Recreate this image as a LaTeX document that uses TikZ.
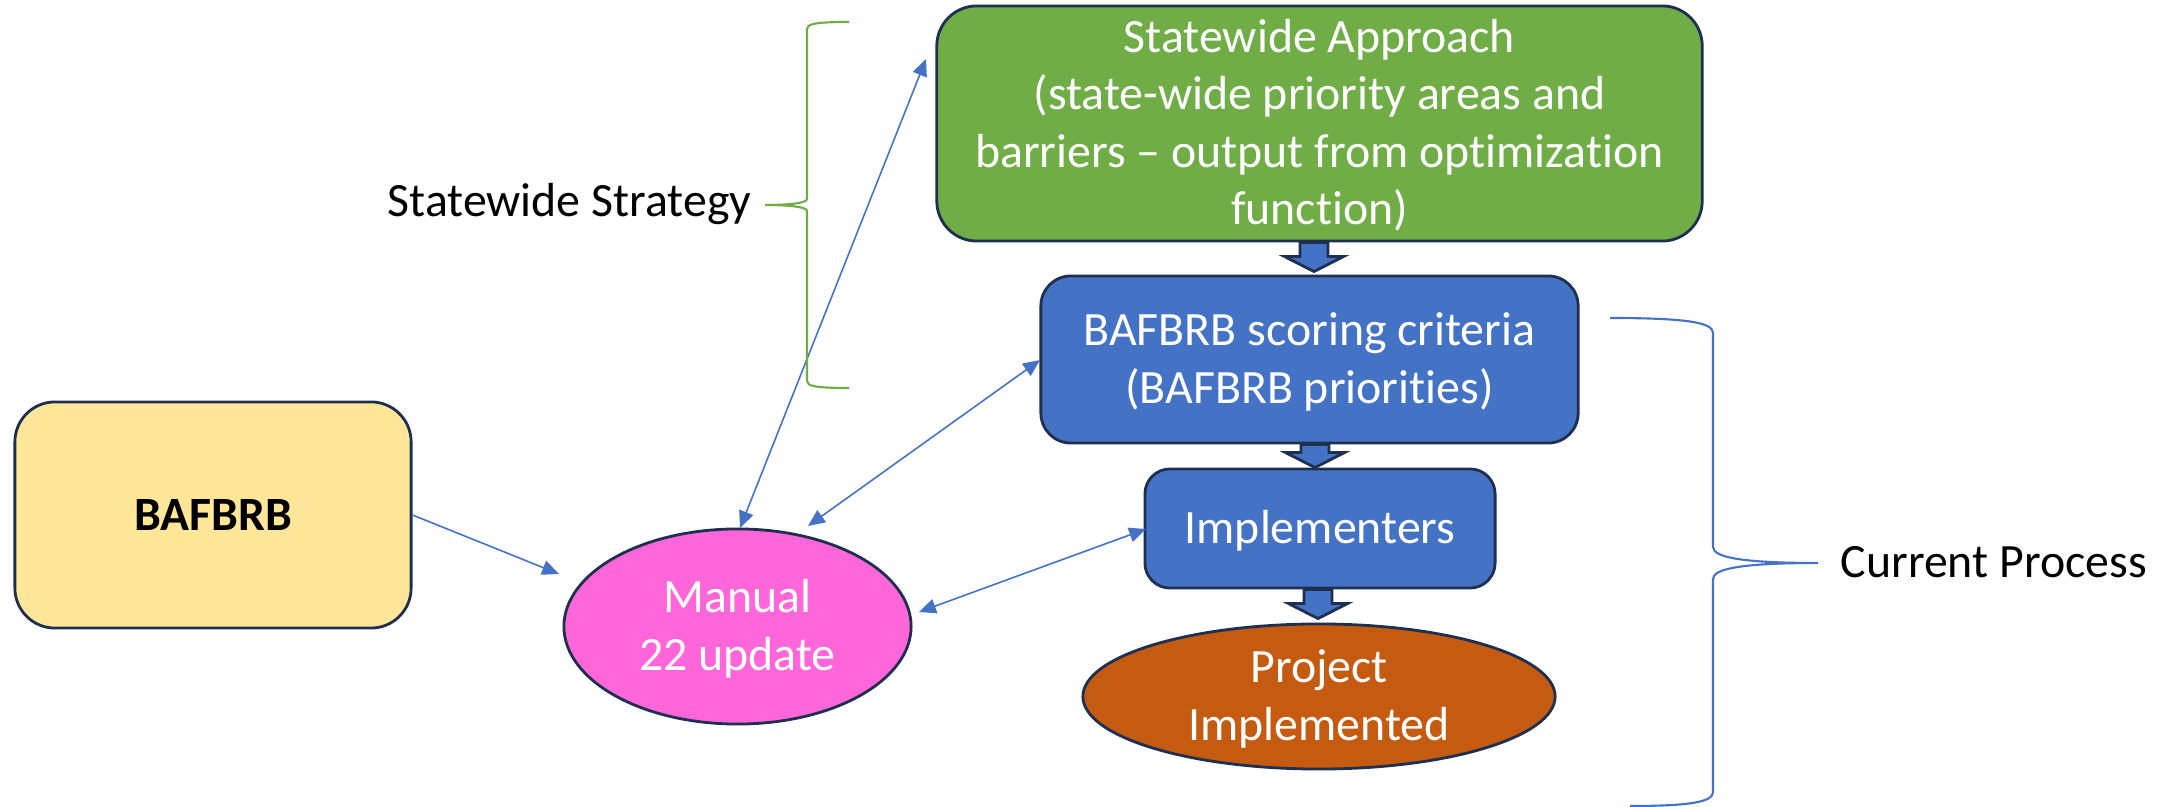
\documentclass[tikz,border=0pt]{standalone}
\usepackage{fontspec}
\setmainfont{Carlito}[Ligatures=NoCommon]
\usetikzlibrary{arrows.meta,shapes.geometric,calc}
\definecolor{edge}{HTML}{1F2F4F}
\definecolor{accblue}{HTML}{4472C4}
\definecolor{accgreen}{HTML}{70AD47}
\definecolor{accyellow}{HTML}{FFE699}
\definecolor{accpink}{HTML}{FF66DA}
\definecolor{accorange}{HTML}{C55A11}
\newcommand\bodyfont{\fontsize{13.6}{16.3}\selectfont}
% #1 = number of lines minus one; the block of baselines is centred 0.15cm below the node centre
\newcommand\ctext[2]{\raisebox{0pt}[0.3cm][#1\baselineskip]{\begin{tabular}[t]{@{}c@{}}#2\end{tabular}}}
\newcommand\blockdown[2]{\draw[blk] let \p1=#1, \p2=#2 in
  (\x1-0.14cm,\y1) -- (\x1+0.14cm,\y1) -- (\x1+0.14cm,\y2+0.15cm) -- (\x1+0.295cm,\y2+0.15cm)
  -- (\x1,\y2) -- (\x1-0.295cm,\y2+0.15cm) -- (\x1-0.14cm,\y2+0.15cm) -- cycle;}
\tikzset{
  box/.style={draw=edge, line width=0.8pt, inner sep=0pt, text=white, font=\bodyfont},
  oval/.style={ellipse, draw=edge, line width=0.8pt, inner sep=0pt, text=white, font=\bodyfont},
  blk/.style={draw=edge, line width=0.8pt, fill=accblue, line join=miter},
  conn/.style={draw=accblue, line width=0.45pt},
  bracebl/.style={draw=accblue, line width=0.6pt},
  bracegr/.style={draw=accgreen, line width=0.6pt},
  lbl/.style={font=\bodyfont, anchor=base west, inner sep=0pt, text=black},
}
\begin{document}
\begin{tikzpicture}[x=0.01cm,y=-0.01cm, >={Triangle[length=4.8pt,width=4.2pt]}]
\useasboundingbox (0,0) rectangle (2164,807);

% nodes
\node[box, fill=accgreen, minimum width=7.65cm, minimum height=2.35cm, rounded corners=0.4cm] (green) at (1319.5,123.5)
  {\ctext{3}{Statewide Approach\\(state-wide priority areas and\\barriers – output from optimization\\function)}};
\node[box, fill=accblue, minimum width=5.37cm, minimum height=1.67cm, rounded corners=0.3cm] (blue1) at (1309.5,359.5)
  {\ctext{1}{BAFBRB scoring criteria\\(BAFBRB priorities)}};
\node[box, fill=accblue, minimum width=3.5cm, minimum height=1.19cm, rounded corners=0.25cm] (blue2) at (1320,528.5)
  {\ctext{0}{Implementers}};
\node[oval, fill=accorange, minimum width=4.72cm, minimum height=1.45cm] (project) at (1319,696.5)
  {\ctext{1}{Project\\Implemented}};
\node[oval, fill=accpink, minimum width=3.47cm, minimum height=1.95cm] (manual) at (737.5,626.5)
  {\ctext{1}{Manual\\22 update}};
\node[box, fill=accyellow, text=black, font=\bodyfont\bfseries, minimum width=3.96cm, minimum height=2.26cm, rounded corners=0.4cm] (bafbrb) at (213,515)
  {\ctext{0}{BAFBRB}};

\node[lbl] (sslabel) at (387,217) {Statewide Strategy};
\node[lbl] (cplabel) at (1840,578) {Current Process};

% block arrows
\blockdown{([xshift=-0.055cm]green.south)}{([yshift=0.03cm]blue1.north)}
\blockdown{([xshift=0.055cm]blue1.south)}{(blue2.north)}
\blockdown{([xshift=-0.02cm]blue2.south)}{([yshift=0.04cm]project.north)}

% connectors
\draw[conn,->] (bafbrb.east) -- ([shift={(-178.5,-52.5)}]manual.center);
\draw[conn,<->] ([shift={(2.5,-98.5)}]manual.center) -- ([shift={(-393.5,-64.5)}]green.center);
\draw[conn,<->] ([shift={(70.5,-100.5)}]manual.center) -- ([shift={(-269.5,0.5)}]blue1.center);
\draw[conn,<->] ([shift={(181.5,-14.5)}]manual.center) -- ([shift={(-174,0.5)}]blue2.center);

% braces
\draw[bracegr] (849,22) .. controls (815,22) and (807,24) .. (807,29) -- (807,199)
  .. controls (807,203) and (790,205) .. (765,205)
  .. controls (790,205) and (807,207) .. (807,211) -- (807,381)
  .. controls (807,386) and (815,388) .. (849,388);
\draw[bracebl] (1610,318) .. controls (1690,318) and (1713,323) .. (1713,333) -- (1713,547)
  .. controls (1713,557) and (1740,563) .. (1818,563)
  .. controls (1740,563) and (1713,569) .. (1713,579) -- (1713,792)
  .. controls (1713,802) and (1690,806) .. (1630,806);
\end{tikzpicture}
\end{document}
